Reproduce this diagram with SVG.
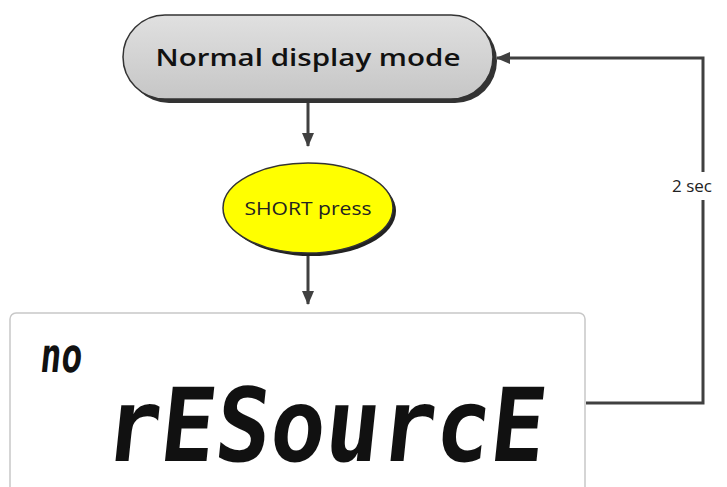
<svg xmlns="http://www.w3.org/2000/svg" width="727" height="487" viewBox="0 0 727 487">
<style>
.conn{fill:none;stroke:#404040;stroke-width:3}
.lbl{font-family:"Open Sans","DejaVu Sans",sans-serif}
.lcd{font-family:"DejaVu Sans Mono",monospace;fill:#111}
</style>
<defs>
<linearGradient id="gray" x1="0" y1="0" x2="0" y2="1">
<stop offset="0" stop-color="#e0e0e0"/>
<stop offset="1" stop-color="#c6c6c6"/>
</linearGradient>
<marker id="ah2" markerWidth="14" markerHeight="14" refX="13" refY="7" orient="auto" markerUnits="userSpaceOnUse" viewBox="0 0 14 14">
<path d="M0,1 L14,7 L0,13 z" fill="#404040"/>
</marker>
</defs>
<rect width="727" height="487" fill="#fff"/>
<g id="connectors">
<path class="conn" d="M308,101 V146" marker-end="url(#ah2)"/>
<path class="conn" d="M308,255 V304" marker-end="url(#ah2)"/>
<path class="conn" d="M586,403 H703 V58 H497" marker-end="url(#ah2)"/>
<rect x="670" y="172" width="57" height="28" fill="#fff"/>
<text class="lbl" x="672" y="192" font-size="17" fill="#222">2 sec</text>
</g>
<g id="normal">
<rect x="127" y="19" width="370" height="84" rx="42" fill="#333"/>
<rect x="123" y="15" width="370" height="84" rx="42" fill="url(#gray)" stroke="#333" stroke-width="1.5"/>
<text class="lbl" x="308" y="66" font-size="23" font-weight="600" text-anchor="middle" textLength="305" lengthAdjust="spacingAndGlyphs" fill="#111">Normal display mode</text>
</g>
<g id="short">
<ellipse cx="311" cy="211" rx="85" ry="45" fill="#222"/>
<ellipse cx="308" cy="208" rx="85" ry="45" fill="#ffff00" stroke="#333" stroke-width="1.5"/>
<text class="lbl" x="308" y="215" font-size="18" text-anchor="middle" textLength="127" lengthAdjust="spacingAndGlyphs" fill="#222">SHORT press</text>
</g>
<g id="display">
<rect x="10" y="313" width="575" height="180" rx="6" fill="#fff" stroke="#c8c8c8" stroke-width="1.5"/>
<text class="lcd" x="40" y="372" font-size="48" font-weight="bold" textLength="42" lengthAdjust="spacingAndGlyphs" transform="translate(38,0) skewX(-6)">no</text>
<text class="lcd" x="105" y="461" font-size="102" font-weight="bold" textLength="440" lengthAdjust="spacingAndGlyphs" transform="translate(46,0) skewX(-6)">rESourcE</text>
</g>
</svg>
